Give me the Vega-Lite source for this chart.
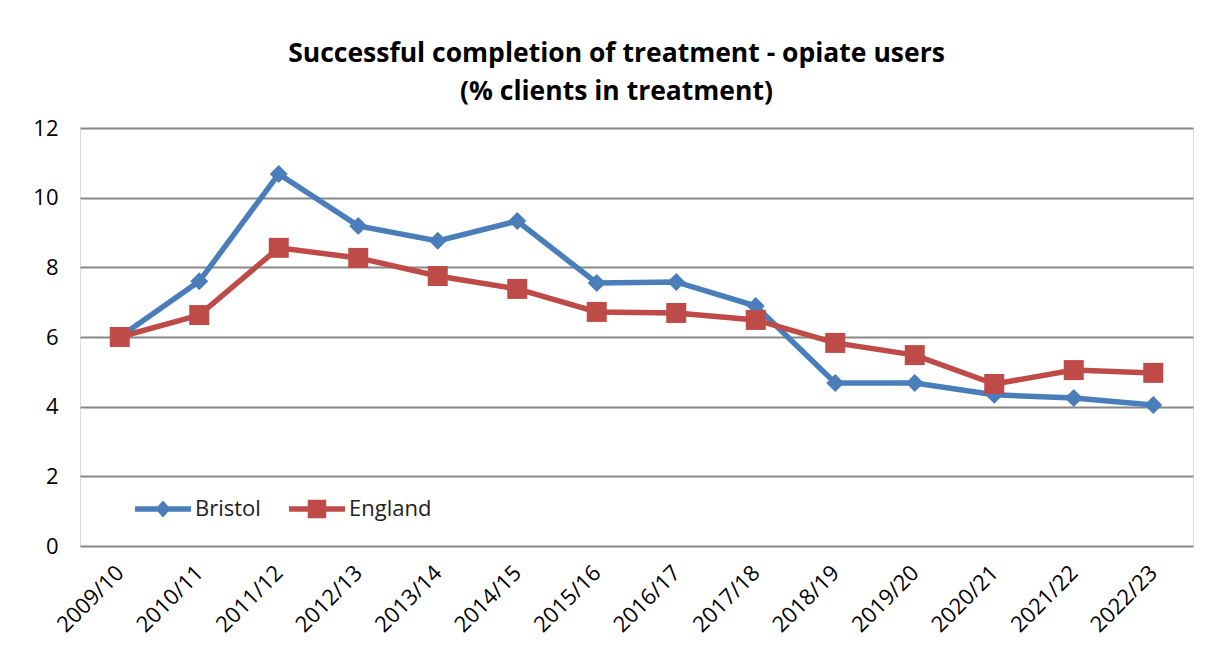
{
  "$schema": "https://vega.github.io/schema/vega-lite/v6.json",
  "autosize": {"type": "none"},
  "width": 1113,
  "height": 418,
  "padding": {"left": 80, "top": 128, "right": 20, "bottom": 115},
  "background": "white",
  "title": {
    "text": ["Successful completion of treatment - opiate users", "(% clients in treatment)"],
    "font": "Open Sans",
    "fontSize": 26.5,
    "fontWeight": "bold",
    "color": "black",
    "anchor": "middle",
    "dx": -20,
    "offset": 12,
    "lineHeight": 38
  },
  "data": {
    "values": [
      {"year": "2009/10", "area": "Bristol", "value": 6.0},
      {"year": "2010/11", "area": "Bristol", "value": 7.6},
      {"year": "2011/12", "area": "Bristol", "value": 10.68},
      {"year": "2012/13", "area": "Bristol", "value": 9.19},
      {"year": "2013/14", "area": "Bristol", "value": 8.76},
      {"year": "2014/15", "area": "Bristol", "value": 9.33},
      {"year": "2015/16", "area": "Bristol", "value": 7.55},
      {"year": "2016/17", "area": "Bristol", "value": 7.58},
      {"year": "2017/18", "area": "Bristol", "value": 6.89},
      {"year": "2018/19", "area": "Bristol", "value": 4.68},
      {"year": "2019/20", "area": "Bristol", "value": 4.68},
      {"year": "2020/21", "area": "Bristol", "value": 4.34},
      {"year": "2021/22", "area": "Bristol", "value": 4.25},
      {"year": "2022/23", "area": "Bristol", "value": 4.05},
      {"year": "2009/10", "area": "England", "value": 6.0},
      {"year": "2010/11", "area": "England", "value": 6.63},
      {"year": "2011/12", "area": "England", "value": 8.56},
      {"year": "2012/13", "area": "England", "value": 8.27},
      {"year": "2013/14", "area": "England", "value": 7.75},
      {"year": "2014/15", "area": "England", "value": 7.38},
      {"year": "2015/16", "area": "England", "value": 6.72},
      {"year": "2016/17", "area": "England", "value": 6.69},
      {"year": "2017/18", "area": "England", "value": 6.49},
      {"year": "2018/19", "area": "England", "value": 5.83},
      {"year": "2019/20", "area": "England", "value": 5.48},
      {"year": "2020/21", "area": "England", "value": 4.65},
      {"year": "2021/22", "area": "England", "value": 5.05},
      {"year": "2022/23", "area": "England", "value": 4.97}
    ]
  },
  "encoding": {
    "x": {
      "field": "year",
      "type": "ordinal",
      "sort": null,
      "scale": {"type": "point", "padding": 0.5},
      "axis": {
        "title": null,
        "labelAngle": -45,
        "labelAlign": "right",
        "labelBaseline": "middle",
        "labelFont": "Open Sans",
        "labelFontSize": 22,
        "labelColor": "black",
        "labelPadding": 23,
        "ticks": false,
        "domain": false,
        "grid": false
      }
    },
    "y": {
      "field": "value",
      "type": "quantitative",
      "scale": {"domain": [0, 12], "nice": false, "zero": true},
      "axis": {
        "title": null,
        "values": [0, 2, 4, 6, 8, 10, 12],
        "labelFont": "Open Sans",
        "labelFontSize": 22,
        "labelColor": "black",
        "labelPadding": 22,
        "ticks": false,
        "domain": false,
        "grid": true,
        "gridColor": "#878787",
        "gridWidth": 2
      }
    },
    "color": {
      "field": "area",
      "type": "nominal",
      "scale": {"domain": ["Bristol", "England"], "range": ["#4a7ebb", "#be4b48"]},
      "legend": {
        "title": null,
        "orient": "none",
        "legendX": 55,
        "legendY": 353,
        "padding": 0,
        "direction": "horizontal",
        "columns": 2,
        "columnPadding": 28,
        "labelFont": "Open Sans",
        "labelFontSize": 22,
        "labelColor": "#222222",
        "labelOffset": 4,
        "symbolSize": 3136,
        "symbolStrokeWidth": 0,
        "symbolOpacity": 1
      }
    }
  },
  "layer": [
    {
      "mark": {"type": "line", "strokeWidth": 5.5}
    },
    {
      "transform": [{"filter": "datum.area === 'Bristol'"}],
      "mark": {"type": "point", "filled": true, "opacity": 1, "size": 324, "shape": "diamond"}
    },
    {
      "transform": [{"filter": "datum.area === 'England'"}],
      "mark": {"type": "point", "filled": true, "opacity": 1, "size": 400, "shape": "square"}
    },
    {
      "mark": {"type": "point", "filled": true, "opacity": 0, "size": 3136},
      "encoding": {
        "shape": {
          "field": "area",
          "type": "nominal",
          "scale": {"domain": ["Bristol", "England"], "range": ["M-1,-0.1H1V0.1H-1Z M0,-0.3L0.27,0L0,0.3L-0.27,0Z", "M-1,-0.1H1V0.1H-1Z M-0.33,-0.33H0.33V0.33H-0.33Z"]},
          "legend": {
            "title": null,
            "orient": "none",
            "legendX": 55,
            "legendY": 353,
            "padding": 0,
            "direction": "horizontal",
            "columns": 2,
            "columnPadding": 28,
            "labelFont": "Open Sans",
            "labelFontSize": 22,
            "labelColor": "#222222",
            "labelOffset": 4,
            "symbolSize": 3136,
            "symbolStrokeWidth": 0,
            "symbolOpacity": 1
          }
        }
      }
    }
  ]
}
